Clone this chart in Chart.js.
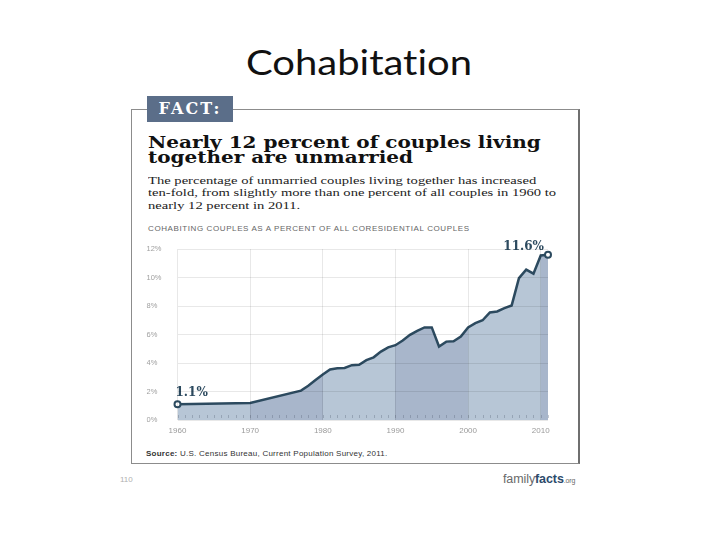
<!DOCTYPE html>
<html>
<head>
<meta charset="utf-8">
<script src="https://cdn.jsdelivr.net/npm/chart.js@4.4.1/dist/chart.umd.min.js"></script>
<style>
  html, body { margin: 0; padding: 0; background: #fff; }
  body { width: 720px; height: 540px; position: relative; overflow: hidden; }
  .abs { position: absolute; white-space: nowrap; }
  #title { left: 0; width: 718px; top: 42px; text-align: center; font-family: Lato, sans-serif; font-size: 40px; color: #111; font-variant-ligatures: none; transform: scaleY(0.85); transform-origin: top center; }
  #card { left: 131px; top: 109px; width: 446px; height: 353px; border: 1.5px solid #8c8c8c; border-right: 2px solid #6f6f6f; }
  #fact { left: 147px; top: 96px; width: 86px; height: 26px; background: #5b6e89; color: #fff; font-family: "DejaVu Serif", serif; font-weight: bold; font-size: 16px; letter-spacing: 2px; line-height: 26px; text-align: center; }
  #headline { left: 148px; top: 134.5px; font-family: "DejaVu Serif", serif; font-weight: bold; font-size: 20px; line-height: 18.3px; color: #111; transform: scale(1.0, 0.82); transform-origin: top left; }
  #body { left: 148px; top: 174px; font-family: "Liberation Serif", serif; font-size: 14.6px; line-height: 16.3px; color: #222; transform: scale(1.0, 0.77); transform-origin: top left; }
  #sub { left: 148px; top: 224px; font-family: "Liberation Sans", sans-serif; font-size: 8px; letter-spacing: 0.6px; color: #666; }
  #source { left: 146px; top: 449px; font-family: "Liberation Sans", sans-serif; font-size: 8px; color: #333; letter-spacing: 0.25px; }
  #page { left: 120px; top: 475px; font-family: "Liberation Sans", sans-serif; font-size: 8px; color: #b0b0b0; }
  #ff { left: 503px; top: 472px; font-family: "Liberation Sans", sans-serif; font-size: 12.5px; color: #6a6a6a; letter-spacing: -0.1px; }
  #ff b { color: #2c4a6b; }
  #ff small { font-size: 7px; color: #6a6a6a; }
  #plot { left: 140px; top: 236px; width: 420px; height: 206px; }
</style>
</head>
<body>
<div id="title" class="abs">Cohabitation</div>
<div id="card" class="abs"></div>
<div id="fact" class="abs">FACT:</div>
<div id="headline" class="abs">Nearly 12 percent of couples living<br>together are unmarried</div>
<div id="body" class="abs">The percentage of unmarried couples living together has increased<br>ten-fold, from slightly more than one percent of all couples in 1960 to<br>nearly 12 percent in 2011.</div>
<div id="sub" class="abs">COHABITING COUPLES AS A PERCENT OF ALL CORESIDENTIAL COUPLES</div>
<div id="plot" class="abs"><canvas id="chart" width="420" height="206"></canvas></div>
<div id="source" class="abs"><b>Source:</b> U.S. Census Bureau, Current Population Survey, 2011.</div>
<div id="page" class="abs">110</div>
<div id="ff" class="abs">family<b>facts</b><small>.org</small></div>
<script>
// values
const years = [1960, 1970, 1977, 1978, 1979, 1980, 1981, 1982, 1983, 1984, 1985,
  1986, 1987, 1988, 1989, 1990, 1991, 1992, 1993, 1994, 1995, 1996, 1997, 1998,
  1999, 2000, 2001, 2002, 2003, 2004, 2005, 2006, 2007, 2008, 2009, 2010, 2011];
const percentCohabiting = [1.1, 1.2, 2.06, 2.4, 2.8, 3.2, 3.55, 3.63, 3.65, 3.85, 3.88,
  4.2, 4.4, 4.8, 5.1, 5.25, 5.58, 5.98, 6.26, 6.5, 6.5, 5.16, 5.5, 5.53,
  5.86, 6.5, 6.8, 7.0, 7.55, 7.62, 7.85, 8.04, 9.96, 10.55, 10.27, 11.55, 11.6];
const decadeTicks = [1960, 1970, 1980, 1990, 2000, 2010];
const percentTicks = [0, 2, 4, 6, 8, 10, 12];
const labelledYears = [1960, 2011];
const labelTexts = ['1.1%', '11.6%'];

const LINE = '#2c4a5f';
const BAND_LIGHT = '#b7c6d6';
const BAND_DARK = '#a8b6cb';

const points = years.map((y, i) => ({ x: y, y: percentCohabiting[i] }));

// alternate decade bands under the line
function bandFill(ctx) {
    const chart = ctx.chart;
    const area = chart.chartArea;
    if (!area) return BAND_LIGHT;
    const xs = chart.scales.x;
    const g = chart.ctx.createLinearGradient(area.left, 0, area.right, 0);
    const w = area.right - area.left;
    let prev = BAND_LIGHT;
    g.addColorStop(0, prev);
    decadeTicks.slice(1).forEach((d, i) => {
        const f = Math.min(1, Math.max(0, (xs.getPixelForValue(d) - area.left) / w));
        const next = (i % 2 === 0) ? BAND_DARK : BAND_LIGHT;
        g.addColorStop(f, prev);
        g.addColorStop(f, next);
        prev = next;
    });
    g.addColorStop(1, prev);
    return g;
}

const yearTicksPlugin = {
    id: 'yearTicks',
    afterDatasetsDraw(chart) {
        const c = chart.ctx;
        const xs = chart.scales.x;
        const bottom = chart.chartArea.bottom;
        c.save();
        c.strokeStyle = 'rgba(90,100,120,0.35)';
        c.lineWidth = 1;
        for (let y = years[0]; y <= years[years.length - 1]; y++) {
            const px = Math.round(xs.getPixelForValue(y)) + 0.5;
            c.beginPath();
            c.moveTo(px, bottom - 5);
            c.lineTo(px, bottom - 2);
            c.stroke();
        }
        c.restore();
    }
};

const endLabelsPlugin = {
    id: 'endLabels',
    afterDatasetsDraw(chart) {
        const c = chart.ctx;
        const meta = chart.getDatasetMeta(0);
        c.save();
        c.fillStyle = LINE;
        c.font = 'bold 12px "DejaVu Serif", serif';
        c.textBaseline = 'middle';
        labelledYears.forEach((yr, k) => {
            const i = years.indexOf(yr);
            const el = meta.data[i];
            if (k === 0) {
                c.textAlign = 'left';
                c.fillText(labelTexts[k], el.x - 2, el.y - 11);
            } else {
                c.textAlign = 'right';
                c.fillText(labelTexts[k], el.x - 4, el.y - 8);
            }
        });
        c.restore();
    }
};

const ctx = document.getElementById('chart').getContext('2d');
new Chart(ctx, {
    type: 'line',
    data: {
        datasets: [{
            data: points,
            borderColor: LINE,
            borderWidth: 2.5,
            fill: 'origin',
            backgroundColor: bandFill,
            tension: 0,
            clip: false,
            pointRadius: (c) => labelledYears.includes(years[c.dataIndex]) ? 3 : 0,
            pointBackgroundColor: '#fff',
            pointBorderColor: LINE,
            pointBorderWidth: 2
        }]
    },
    options: {
        responsive: false,
        devicePixelRatio: 1,
        animation: false,
        layout: { padding: { left: 6.5, right: 12, top: 13, bottom: 0 } },
        plugins: { legend: { display: false }, tooltip: { enabled: false } },
        scales: {
            x: {
                type: 'linear',
                min: 1960,
                max: 2011,
                afterBuildTicks: (s) => { s.ticks = decadeTicks.map(v => ({ value: v })); },
                afterFit: (s) => { s.height = 22; },
                grid: { color: 'rgba(0,0,0,0.09)', drawTicks: false, z: 1 },
                border: { display: false },
                ticks: {
                    padding: 6,
                    color: '#9a9a9a',
                    font: { family: 'Liberation Sans', size: 8 },
                    maxRotation: 0,
                    callback: (v) => String(v)
                }
            },
            y: {
                min: 0,
                max: 12,
                afterBuildTicks: (s) => { s.ticks = percentTicks.map(v => ({ value: v })); },
                afterFit: (s) => { s.width = 31; },
                grid: { color: 'rgba(0,0,0,0.09)', drawTicks: false, z: 1 },
                border: { display: false },
                ticks: {
                    crossAlign: 'far',
                    color: '#a0a0a0',
                    font: { family: 'Liberation Sans', size: 7.5 },
                    callback: (v) => v + '%'
                }
            }
        }
    },
    plugins: [yearTicksPlugin, endLabelsPlugin]
});
</script>
</body>
</html>
